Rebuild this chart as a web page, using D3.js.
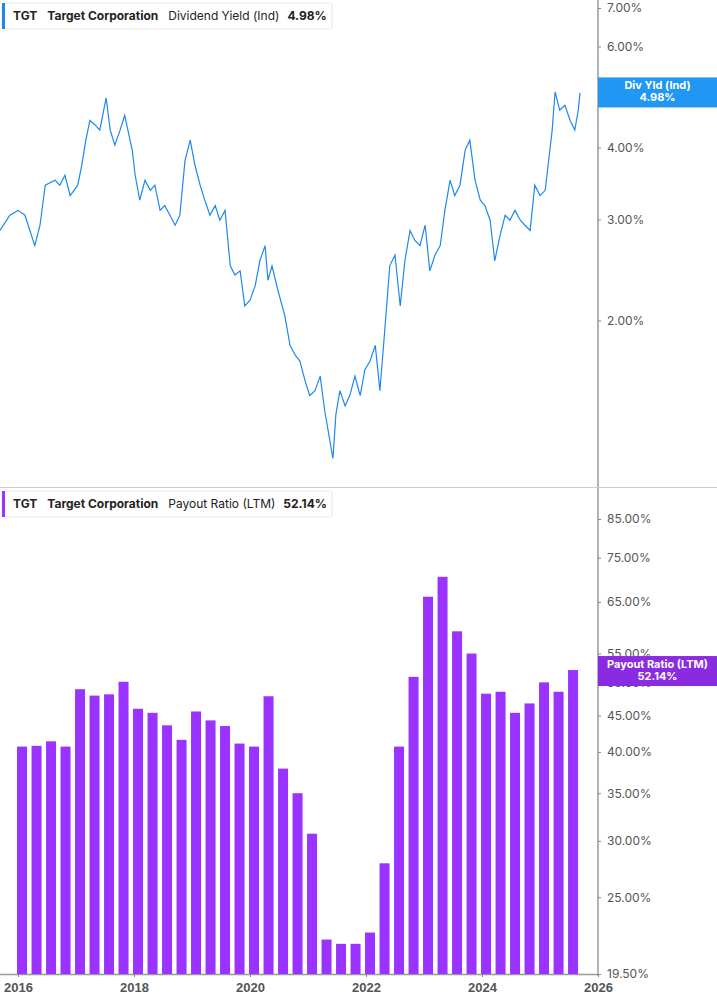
<!DOCTYPE html>
<html><head><meta charset="utf-8">
<script src="https://cdn.jsdelivr.net/npm/d3@7"></script>
<style>body{margin:0;background:#fff;font-family:Inter,"Noto Sans",sans-serif}</style>
</head><body><svg id="c" width="717" height="1005"></svg>
<script>
const yieldDates=[2015.69,2015.86,2016.00,2016.12,2016.29,2016.38,2016.47,2016.64,2016.72,2016.81,2016.90,2017.03,2017.10,2017.17,2017.24,2017.33,2017.41,2017.52,2017.59,2017.67,2017.76,2017.84,2017.97,2018.02,2018.10,2018.19,2018.28,2018.36,2018.45,2018.53,2018.62,2018.71,2018.79,2018.88,2018.97,2019.05,2019.14,2019.22,2019.31,2019.40,2019.48,2019.57,2019.66,2019.74,2019.83,2019.91,2020.00,2020.09,2020.17,2020.26,2020.31,2020.38,2020.48,2020.60,2020.69,2020.78,2020.86,2020.95,2021.03,2021.12,2021.21,2021.29,2021.38,2021.43,2021.48,2021.55,2021.64,2021.72,2021.81,2021.90,2021.98,2022.07,2022.16,2022.24,2022.33,2022.41,2022.50,2022.59,2022.67,2022.76,2022.84,2022.93,2023.02,2023.10,2023.19,2023.28,2023.36,2023.45,2023.53,2023.62,2023.71,2023.79,2023.88,2023.97,2024.05,2024.14,2024.22,2024.31,2024.40,2024.48,2024.57,2024.66,2024.74,2024.83,2024.91,2025.00,2025.09,2025.14,2025.21,2025.26,2025.34,2025.43,2025.52,2025.60,2025.66,2025.69];
const yieldValues=[2.87,3.05,3.11,3.05,2.70,2.93,3.44,3.51,3.44,3.58,3.30,3.44,3.73,4.12,4.46,4.38,4.29,4.88,4.29,4.04,4.29,4.55,3.96,3.58,3.24,3.51,3.37,3.44,3.11,3.17,3.05,2.93,3.05,3.80,4.12,3.73,3.44,3.24,3.05,3.17,2.99,3.11,2.49,2.40,2.44,2.12,2.17,2.30,2.54,2.70,2.35,2.49,2.26,2.04,1.81,1.74,1.70,1.57,1.48,1.51,1.60,1.39,1.23,1.15,1.37,1.51,1.42,1.48,1.60,1.48,1.64,1.70,1.81,1.51,1.96,2.49,2.60,2.12,2.54,2.87,2.76,2.70,2.93,2.44,2.60,2.70,3.11,3.51,3.30,3.44,3.96,4.12,3.51,3.24,3.17,2.99,2.54,2.81,3.05,2.99,3.11,2.99,2.93,2.87,3.44,3.30,3.37,3.73,4.29,5.00,4.65,4.74,4.46,4.29,4.65,4.98];
const payoutDates=[];
for(let y=2016;y<=2025;y++)for(let q=0;q<4;q++){if(y===2025&&q===3)break;payoutDates.push(`${y}Q${q+1}`);}
const payoutValues=[40.7,40.8,41.4,40.7,49.0,48.0,48.2,50.2,46.0,45.4,43.6,41.6,45.6,44.3,43.5,41.1,40.7,47.9,37.9,35.0,30.7,21.8,21.5,21.5,22.3,27.9,40.7,51.0,66.1,70.5,59.1,55.0,48.3,48.6,45.4,46.8,50.1,48.6,52.14];
const yieldTicks=[2,3,4,5,6,7];
const payoutTicks=[19.5,25,30,35,40,45,50,55,65,75,85];
const yearTicks=[2016,2018,2020,2022,2024,2026];

const svg=d3.select("#c");
const AX=598;
const x=d3.scaleLinear().domain([2015.69,2026]).range([0,AX]);
const yTop=d3.scaleLog().domain([1.03,7]).range([486,8]);
const yBot=d3.scaleLog().domain([19.5,85]).range([974,519]);
const blue="#1e88f0", purple="#9a33ff";
const grey="#555";

svg.append("line").attr("x1",AX).attr("x2",AX).attr("y1",0).attr("y2",976).attr("stroke","#999").attr("stroke-width",1.5);
svg.append("line").attr("x1",0).attr("x2",717).attr("y1",487.5).attr("y2",487.5).attr("stroke","#ccc");
svg.append("line").attr("x1",0).attr("x2",AX).attr("y1",974.5).attr("y2",974.5).attr("stroke","#999").attr("stroke-width",1.5);

function yAxis(scale,ticks){
  const g=svg.append("g").attr("transform",`translate(${AX},0)`)
    .call(d3.axisRight(scale).tickValues(ticks).tickSize(3).tickPadding(6).tickFormat(d=>d.toFixed(2)+"%"));
  g.select(".domain").remove();
  g.selectAll("line").attr("stroke","#888");
  g.selectAll("text").attr("fill",grey).attr("font-size",12).attr("font-family","Inter,sans-serif");
}
yAxis(yTop,yieldTicks);
yAxis(yBot,payoutTicks);

const xg=svg.append("g").attr("transform","translate(0,974)")
  .call(d3.axisBottom(x).tickValues(yearTicks).tickSize(3).tickPadding(6).tickFormat(d3.format("d")));
xg.select(".domain").remove();
xg.selectAll("line").attr("stroke","#888");
xg.selectAll("text").attr("fill",grey).attr("font-size",13).attr("font-weight","bold");

const qx=s=>{const [y,q]=s.split("Q");return +y+(+q-1)*0.25+0.07;};
svg.selectAll(".bar").data(payoutValues).join("rect")
  .attr("x",(d,i)=>x(qx(payoutDates[i]))-5).attr("width",10)
  .attr("y",d=>yBot(d)).attr("height",d=>974-yBot(d)).attr("fill",purple);

const pts=yieldDates.map((d,i)=>[d,yieldValues[i]]);
svg.append("path").datum(pts).attr("fill","none").attr("stroke",blue).attr("stroke-width",1.2)
  .attr("d",d3.line().x(d=>x(d[0])).y(d=>yTop(d[1])));

function legend(y0,color,label,val,w){
  const g=svg.append("g");
  g.append("rect").attr("x",2).attr("y",y0).attr("width",w).attr("height",26).attr("rx",3).attr("fill","#fff").attr("stroke","#e6e6e6");
  g.append("rect").attr("x",2).attr("y",y0).attr("width",3).attr("height",26).attr("fill",color);
  const t=g.append("text").attr("x",13).attr("y",y0+17).attr("font-size",12).attr("fill","#222");
  t.append("tspan").attr("font-weight","bold").text("TGT");
  t.append("tspan").attr("dx",10).attr("font-weight","bold").text("Target Corporation");
  t.append("tspan").attr("dx",10).text(label);
  t.append("tspan").attr("dx",8).attr("font-weight","bold").text(val);
}
legend(3,blue,"Dividend Yield (Ind)","4.98%",330);
legend(491,purple,"Payout Ratio (LTM)","52.14%",330);

function tag(yc,color,l1,l2){
  svg.append("rect").attr("x",AX).attr("y",yc-15).attr("width",717-AX).attr("height",30).attr("fill",color);
  svg.append("text").attr("x",(AX+717)/2).attr("y",yc-3).attr("text-anchor","middle").attr("fill","#fff").attr("font-size",11).attr("font-weight","bold").text(l1);
  svg.append("text").attr("x",(AX+717)/2).attr("y",yc+9).attr("text-anchor","middle").attr("fill","#fff").attr("font-size",11).attr("font-weight","bold").text(l2);
}
tag(yTop(4.98)-0.5,"#2196f3","Div Yld (Ind)","4.98%");
tag(yBot(52.14)+1,"#8a2be2","Payout Ratio (LTM)","52.14%");
</script></body></html>
